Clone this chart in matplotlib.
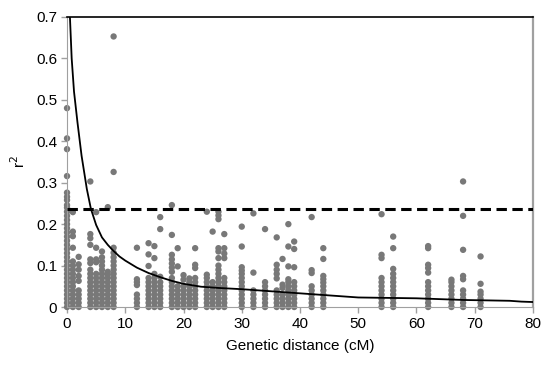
import matplotlib.pyplot as plt

plt.rcParams['font.family'] = ['Liberation Sans', 'DejaVu Sans']

# genetic distance of each marker-pair column (cM)
dist_cm = [0, 1, 2, 4, 5, 6, 7, 8, 12, 14, 15, 16, 18, 19, 20, 21, 22, 24, 25, 26,
           27, 30, 32, 34, 36, 37, 38, 39, 42, 44, 54, 56, 62, 66, 68, 71]

# r2 values in each column (dense stack from 0 plus scattered points)
r2_by_dist = [
    [0, .01, .02, .03, .04, .05, .06, .07, .08, .09, .10, .11, .12, .13, .14, .15, .16, .17,
     .18, .19, .20, .21, .22, .23, .24, .246, .258, .266, .276, .316, .381, .407, .48],
    [0, .01, .02, .03, .04, .05, .06, .07, .08, .09, .10, .11, .143, .171, .182, .229],
    [0, .01, .02, .03, .04, .063, .075, .09, .103, .121],
    [0, .01, .02, .03, .04, .05, .06, .07, .08, .09, .106, .115, .15, .166, .176, .303],
    [0, .01, .02, .03, .04, .05, .06, .07, .08, .108, .115, .143, .229],
    [0, .01, .02, .03, .04, .05, .06, .07, .08, .09, .10, .11, .12, .134],
    [0, .01, .02, .03, .04, .05, .06, .07, .078, .085, .241],
    [0, .01, .02, .03, .04, .05, .06, .07, .08, .09, .10, .11, .12, .131, .143, .326, .653],
    [0, .01, .02, .03, .053, .06, .067, .143],
    [0, .01, .02, .03, .04, .05, .06, .07, .099, .127, .154],
    [0, .01, .02, .03, .04, .05, .06, .07, .08, .118, .147],
    [0, .01, .02, .03, .04, .05, .06, .073, .188, .217],
    [0, .01, .02, .03, .04, .05, .06, .07, .085, .095, .105, .115, .126, .174, .246],
    [0, .01, .02, .03, .04, .05, .098, .142],
    [0, .01, .02, .03, .04, .05, .066, .077],
    [0, .01, .02, .03, .04, .05, .06, .069],
    [0, .01, .02, .03, .04, .05, .06, .07, .094, .102, .142],
    [0, .01, .02, .03, .04, .05, .06, .07, .078, .23],
    [0, .01, .02, .03, .04, .05, .06, .182],
    [0, .01, .02, .03, .04, .05, .06, .07, .08, .09, .10, .118, .134, .142, .212, .221, .23],
    [0, .01, .02, .03, .04, .05, .06, .07, .118, .129, .142, .176],
    [0, .01, .02, .03, .04, .05, .06, .07, .08, .088, .096, .146, .194],
    [0, .01, .02, .03, .04, .083, .226],
    [0, .01, .02, .03, .04, .05, .06, .188],
    [0, .01, .02, .03, .04, .069, .08, .09, .102, .168],
    [0, .01, .02, .03, .046, .054, .116],
    [0, .01, .02, .03, .04, .05, .06, .067, .098, .146, .2],
    [0, .01, .02, .03, .04, .05, .06, .096, .14, .158],
    [0, .01, .02, .03, .04, .05, .082, .089, .217],
    [0, .01, .02, .03, .04, .05, .059, .067, .075, .116, .142],
    [0, .01, .02, .03, .04, .05, .06, .07, .118, .126, .224],
    [0, .01, .02, .03, .04, .05, .06, .07, .08, .092, .142, .17],
    [0, .01, .02, .03, .04, .05, .06, .083, .094, .102, .142, .147],
    [0, .01, .02, .03, .04, .05, .06, .066],
    [0, .01, .02, .03, .04, .067, .075, .138, .22, .303],
    [0, .01, .02, .03, .037, .056, .122],
]

# fitted LD decay curve
curve_x = [0.3, 0.5, 0.8, 1.2, 1.8, 2.5, 3.4, 4.1, 5.0, 6.0, 7.0, 8.0, 9.0, 10.0, 12.0,
           14.0, 16.0, 18.0, 20.0, 23.0, 26.0, 30.0, 34.0, 38.0, 42.0, 46.0, 50.0, 55.0,
           60.0, 64.0, 68.0, 72.0, 76.0, 78.0, 80.0]
curve_r2 = [0.80, 0.70, 0.60, 0.52, 0.445, 0.365, 0.285, 0.237, 0.198, 0.168, 0.150,
            0.135, 0.122, 0.112, 0.095, 0.082, 0.072, 0.063, 0.056, 0.049, 0.046, 0.043,
            0.039, 0.035, 0.031, 0.027, 0.023, 0.022, 0.021, 0.019, 0.017, 0.016, 0.015,
            0.013, 0.012]

# background LD threshold
threshold = 0.236

fig = plt.figure(figsize=(5.48, 3.71), dpi=100)
ax = fig.add_axes([0.1223, 0.1725, 0.8503, 0.7817])

xs, ys = [], []
for d, vals in zip(dist_cm, r2_by_dist):
    xs += [d] * len(vals)
    ys += vals
ax.scatter(xs, ys, s=21, color='#787878', edgecolors='none', clip_on=False, zorder=2)

ax.plot(curve_x, curve_r2, color='black', lw=1.3, zorder=3)
ax.axhline(threshold, color='black', lw=2.2, dashes=(3.4, 1.8), zorder=3)

ax.set_xlim(0, 80)
ax.set_ylim(0, 0.7)
ax.set_xticks(range(0, 81, 10))
ax.set_yticks([0, 0.1, 0.2, 0.3, 0.4, 0.5, 0.6, 0.7])
ax.set_yticklabels(['0', '0.1', '0.2', '0.3', '0.4', '0.5', '0.6', '0.7'])

for side in ['left', 'bottom', 'right']:
    ax.spines[side].set_color('#a0a0a0')
ax.spines['right'].set_linewidth(1.6)
ax.spines['top'].set_color('black')
ax.spines['top'].set_linewidth(1.2)
ax.tick_params(direction='out', length=4, width=1, color='#a0a0a0',
               labelsize=11, labelcolor='black', pad=3)

ax.set_xlabel('Genetic distance (cM)', fontsize=11, labelpad=6)
ax.set_ylabel('r$^2$', fontsize=11, labelpad=6)

fig.savefig('out.png', dpi=100)
